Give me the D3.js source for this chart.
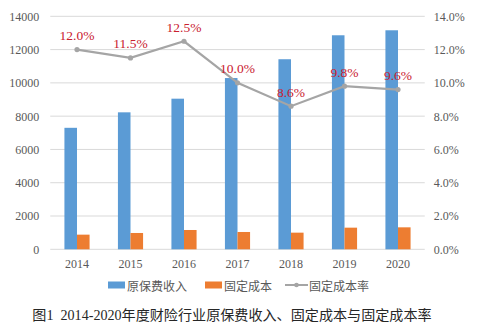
<!DOCTYPE html>
<html><head><meta charset="utf-8">
<script src="https://cdn.jsdelivr.net/npm/d3@7"></script>
<style>
html,body{margin:0;padding:0;background:#fff;}
svg{display:block;}
</style></head>
<body>
<svg id="c" width="480" height="331"></svg>
<script>
const years = ["2014","2015","2016","2017","2018","2019","2020"];
const premium = [7300, 8230, 9050, 10290, 11420, 12860, 13160];
const fixedCost = [880, 980, 1160, 1040, 1000, 1300, 1320];
const costRate = [12.0, 11.5, 12.5, 10.0, 8.6, 9.8, 9.6];
const leftTicks = [0, 2000, 4000, 6000, 8000, 10000, 12000, 14000];
const rightTicks = [0, 2, 4, 6, 8, 10, 12, 14];
const seriesNames = ["原保费收入", "固定成本", "固定成本率"];
const title = "图1  2014-2020年度财险行业原保费收入、固定成本与固定成本率";

const svg = d3.select("#c");
const L = 50.25, R = 424.75, T = 16.3, B = 249.3;
const serif = "'Liberation Serif','Times New Roman',serif";
const sans = "'Noto Sans CJK SC','Noto Sans',sans-serif";
const textCol = "#595959";

const x0 = d3.scaleBand().domain(years).range([L, R]).paddingInner(0.53).paddingOuter(0.265);
const x1 = d3.scaleBand().domain([0, 1]).range([0, x0.bandwidth()]);
const y = d3.scaleLinear().domain([0, 14000]).range([B, T]);
const yR = d3.scaleLinear().domain([0, 14]).range([B, T]);

// gridlines
svg.append("g").selectAll("line").data(leftTicks).join("line")
  .attr("x1", L).attr("x2", R)
  .attr("y1", d => y(d)).attr("y2", d => y(d))
  .attr("stroke", "#d9d9d9").attr("stroke-width", 1);

// left axis
const gl = svg.append("g").attr("transform", `translate(${L},0)`)
  .call(d3.axisLeft(y).tickValues(leftTicks).tickSize(0).tickPadding(11).tickFormat(d3.format("d")));
gl.select(".domain").remove();
gl.selectAll("text").attr("font-family", serif).attr("font-size", 12).attr("fill", textCol);

// right axis
const gr = svg.append("g").attr("transform", `translate(${R},0)`)
  .call(d3.axisRight(yR).tickValues(rightTicks).tickSize(0).tickPadding(9).tickFormat(d => d.toFixed(1) + "%"));
gr.select(".domain").remove();
gr.selectAll("text").attr("font-family", serif).attr("font-size", 12).attr("fill", textCol);

// bottom axis
const gb = svg.append("g").attr("transform", `translate(0,${B})`)
  .call(d3.axisBottom(x0).tickSize(0).tickPadding(10));
gb.select(".domain").remove();
gb.selectAll("text").attr("font-family", serif).attr("font-size", 12).attr("fill", textCol);

// bars
const g = svg.append("g").selectAll("g").data(years).join("g")
  .attr("transform", d => `translate(${x0(d)},0)`);
g.append("rect")
  .attr("x", x1(0)).attr("width", x1.bandwidth())
  .attr("y", (d, i) => y(premium[i])).attr("height", (d, i) => B - y(premium[i]))
  .attr("fill", "#5b9bd5");
g.append("rect")
  .attr("x", x1(1)).attr("width", x1.bandwidth())
  .attr("y", (d, i) => y(fixedCost[i])).attr("height", (d, i) => B - y(fixedCost[i]))
  .attr("fill", "#ed7d31");

// line
const cx = d => x0(d) + x0.bandwidth() / 2;
const line = d3.line().x((d, i) => cx(years[i])).y(d => yR(d));
svg.append("path").datum(costRate).attr("d", line)
  .attr("fill", "none").attr("stroke", "#a5a5a5").attr("stroke-width", 2.2);
svg.append("g").selectAll("circle").data(costRate).join("circle")
  .attr("cx", (d, i) => cx(years[i])).attr("cy", d => yR(d)).attr("r", 2.6)
  .attr("fill", "#a5a5a5");
svg.append("g").selectAll("text").data(costRate).join("text")
  .attr("x", (d, i) => cx(years[i])).attr("y", d => yR(d) - 9.5)
  .attr("text-anchor", "middle")
  .attr("font-family", serif).attr("font-size", 13.5).attr("fill", "#c9202f")
  .text(d => d.toFixed(1) + "%");

// legend
const leg = svg.append("g");
const legItems = [
  {x: 108, type: "rect", color: "#5b9bd5"},
  {x: 205, type: "rect", color: "#ed7d31"},
  {x: 285, type: "line", color: "#a5a5a5"}
];
const ly = 285;
legItems.forEach((it, i) => {
  if (it.type === "rect") {
    leg.append("rect").attr("x", it.x).attr("y", ly - 3.5).attr("width", 17).attr("height", 7).attr("fill", it.color);
  } else {
    leg.append("line").attr("x1", it.x).attr("x2", it.x + 23).attr("y1", ly).attr("y2", ly)
      .attr("stroke", it.color).attr("stroke-width", 2);
    leg.append("circle").attr("cx", it.x + 11.5).attr("cy", ly).attr("r", 2.3).attr("fill", it.color);
  }
  leg.append("text").attr("x", it.x + (it.type === "rect" ? 19 : 24)).attr("y", ly)
    .attr("dominant-baseline", "central")
    .attr("font-family", sans).attr("font-size", 12).attr("fill", textCol)
    .text(seriesNames[i]);
});

// title
svg.append("text").attr("x", 232).attr("y", 315)
  .attr("xml:space", "preserve").style("white-space", "pre")
  .attr("text-anchor", "middle").attr("dominant-baseline", "central")
  .attr("font-family", "'Liberation Serif','Noto Sans CJK SC',serif")
  .attr("font-size", 14.1).attr("fill", "#262626")
  .text(title);
</script>
</body></html>
